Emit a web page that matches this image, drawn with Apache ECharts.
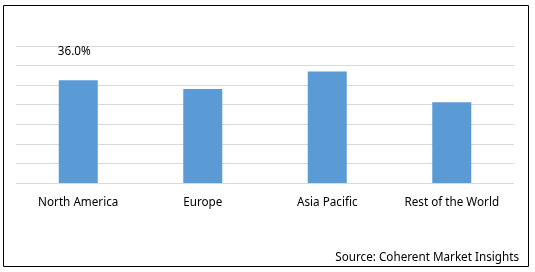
<!DOCTYPE html>
<html><head><meta charset="utf-8">
<script src="https://cdn.jsdelivr.net/npm/echarts@6/dist/echarts.min.js"></script>
<style>html,body{margin:0;padding:0;background:#fff}#c{width:535px;height:272px}</style>
</head><body><div id="c"></div>
<script>
const categories = ["North America", "Europe", "Asia Pacific", "Rest of the World"];
const shareValues = [36.0, 32.9, 39.1, 28.3];
const labelTexts = ["36.0%", "", "", ""];
const sourceText = "Source: Coherent Market Insights";

const chart = echarts.init(document.getElementById('c'), null, {renderer: 'canvas'});
const font = "Noto Sans";
chart.setOption({
  animation: false,
  grid: {left: 16, right: 21, top: 46, bottom: 89, containLabel: false},
  xAxis: {
    type: 'category', data: categories,
    axisLine: {show: false}, axisTick: {show: false},
    axisLabel: {color: '#000', fontFamily: font, fontSize: 11.7, margin: 14}
  },
  yAxis: {
    type: 'value', min: 0, max: 48, interval: 48 / 7,
    axisLabel: {show: false}, axisLine: {show: false}, axisTick: {show: false},
    splitLine: {lineStyle: {color: '#D9D9D9', width: 1}}
  },
  series: [{
    type: 'bar', data: shareValues, barWidth: 39,
    itemStyle: {color: '#5B9BD5'},
    label: {
      show: true, position: 'top', distance: 23,
      formatter: p => labelTexts[p.dataIndex],
      color: '#000', fontFamily: font, fontSize: 11.7, offset: [-4, 0]
    }
  }],
  graphic: [
    {type: 'rect', shape: {x: 3.5, y: 5.5, width: 525, height: 261}, style: {fill: 'none', stroke: '#000', lineWidth: 1}, z: 10},
    {type: 'text', right: 16, top: 252, style: {text: sourceText, fill: '#000', font: '11.7px "Noto Sans"'}}
  ]
});
</script></body></html>
